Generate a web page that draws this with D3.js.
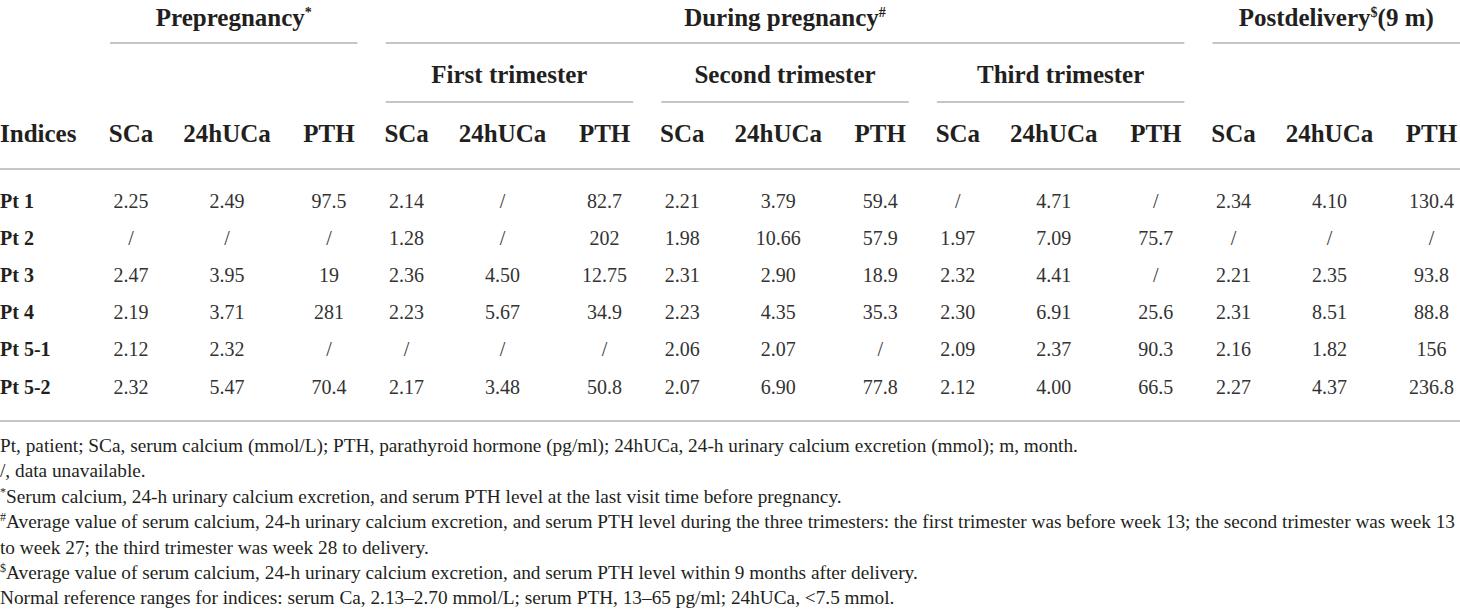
<!DOCTYPE html>
<html>
<head>
<meta charset="utf-8">
<script src="https://cdn.jsdelivr.net/npm/d3@7"></script>
<style>
  body { margin: 0; background: #fff; }
  svg { display: block; font-family: "Liberation Serif", "DejaVu Serif", serif; }
</style>
</head>
<body>
<svg width="1460" height="609"></svg>
<script>
// table content
var groups = ["Prepregnancy", "First trimester", "Second trimester", "Third trimester", "Postdelivery"];
var indices = ["SCa", "24hUCa", "PTH"];
var patients = ["Pt 1", "Pt 2", "Pt 3", "Pt 4", "Pt 5-1", "Pt 5-2"];

// values per patient, 3 indices x 5 periods, "/" = unavailable
var pt1 = ["2.25", "2.49", "97.5", "2.14", "/", "82.7", "2.21", "3.79", "59.4", "/", "4.71", "/", "2.34", "4.10", "130.4"];
var pt2 = ["/", "/", "/", "1.28", "/", "202", "1.98", "10.66", "57.9", "1.97", "7.09", "75.7", "/", "/", "/"];
var pt3 = ["2.47", "3.95", "19", "2.36", "4.50", "12.75", "2.31", "2.90", "18.9", "2.32", "4.41", "/", "2.21", "2.35", "93.8"];
var pt4 = ["2.19", "3.71", "281", "2.23", "5.67", "34.9", "2.23", "4.35", "35.3", "2.30", "6.91", "25.6", "2.31", "8.51", "88.8"];
var pt51 = ["2.12", "2.32", "/", "/", "/", "/", "2.06", "2.07", "/", "2.09", "2.37", "90.3", "2.16", "1.82", "156"];
var pt52 = ["2.32", "5.47", "70.4", "2.17", "3.48", "50.8", "2.07", "6.90", "77.8", "2.12", "4.00", "66.5", "2.27", "4.37", "236.8"];
var rows = [pt1, pt2, pt3, pt4, pt51, pt52];

var footnotes = [
  ["", "Pt, patient; SCa, serum calcium (mmol/L); PTH, parathyroid hormone (pg/ml); 24hUCa, 24-h urinary calcium excretion (mmol); m, month."],
  ["", "/, data unavailable."],
  ["*", "Serum calcium, 24-h urinary calcium excretion, and serum PTH level at the last visit time before pregnancy."],
  ["#", "Average value of serum calcium, 24-h urinary calcium excretion, and serum PTH level during the three trimesters: the first trimester was before week 13; the second trimester was week 13"],
  ["", "to week 27; the third trimester was week 28 to delivery."],
  ["$", "Average value of serum calcium, 24-h urinary calcium excretion, and serum PTH level within 9 months after delivery."],
  ["", "Normal reference ranges for indices: serum Ca, 2.13\u20132.70 mmol/L; serum PTH, 13\u201365 pg/ml; 24hUCa, <7.5 mmol."]
];

var svg = d3.select('svg');
var ink = "#231f20";
var ruleColor = "#c6c6c6";

var x = d3.scaleBand().domain(groups).range([110, 1460]).paddingInner(0.102).paddingOuter(0);
var sub = d3.scaleOrdinal().domain(indices).range([21, 117, 219]);
var y = d3.scaleBand().domain(patients).range([183, 405.6]);

var colX = function(g, k) { return x(g) + sub(k); };

var rule = function(x1, x2, yy) {
  svg.append("line")
    .attr('x1', x1).attr('x2', x2)
    .attr('y1', yy).attr('y2', yy)
    .style('stroke', ruleColor).style('stroke-width', 2);
};

var spanLabel = function(text, mark, tail, g1, g2, yy, ry) {
  var x1 = x(g1), x2 = x(g2) + x.bandwidth();
  var t = svg.append("text")
    .attr('x', (x1 + x2) / 2).attr('y', yy)
    .attr('text-anchor', 'middle')
    .style('font-weight', 'bold').style('font-size', '25px').style('fill', ink);
  t.append("tspan").text(text);
  if (mark) t.append("tspan").attr('dy', -9).style('font-size', '14px').text(mark);
  if (tail) t.append("tspan").attr('dy', 9).text(tail);
  rule(x1, x2, ry);
};

// top level headers
spanLabel("Prepregnancy", "*", "", groups[0], groups[0], 26, 43);
spanLabel("During pregnancy", "#", "", groups[1], groups[3], 26, 43);
spanLabel("Postdelivery", "$", "(9 m)", groups[4], groups[4], 26, 43);

// trimester headers
groups.slice(1, 4).forEach(function(g) {
  spanLabel(g, "", "", g, g, 83, 102);
});

// column headers
svg.append("text")
  .attr('x', 0).attr('y', 142)
  .style('font-weight', 'bold').style('font-size', '25px').style('fill', ink)
  .text("Indices");

groups.forEach(function(g) {
  indices.forEach(function(k) {
    svg.append("text")
      .attr('x', colX(g, k)).attr('y', 142)
      .attr('text-anchor', 'middle')
      .style('font-weight', 'bold').style('font-size', '25px').style('fill', ink)
      .text(k);
  });
});
rule(0, 1460, 169);

// body rows
patients.forEach(function(p, i) {
  var cy = y(p) + y.bandwidth() / 2 + 6.5;
  svg.append("text")
    .attr('x', 0).attr('y', cy)
    .style('font-weight', 'bold').style('font-size', '20px').style('fill', ink)
    .text(p);
  rows[i].forEach(function(v, j) {
    var g = groups[Math.floor(j / 3)], k = indices[j % 3];
    svg.append("text")
      .attr('x', colX(g, k)).attr('y', cy)
      .attr('text-anchor', 'middle')
      .style('font-size', '20px').style('fill', '#333')
      .text(v);
  });
});
rule(0, 1460, 421);

// footnotes
footnotes.forEach(function(f, i) {
  var t = svg.append("text")
    .attr('x', 0).attr('y', 452 + i * 25.4)
    .style('font-size', '19.3px').style('fill', ink);
  if (f[0]) t.append("tspan").attr('dy', -7).style('font-size', '12px').text(f[0]);
  t.append("tspan").attr('dy', f[0] ? 7 : 0).text(f[1]);
});
</script>
</body>
</html>
